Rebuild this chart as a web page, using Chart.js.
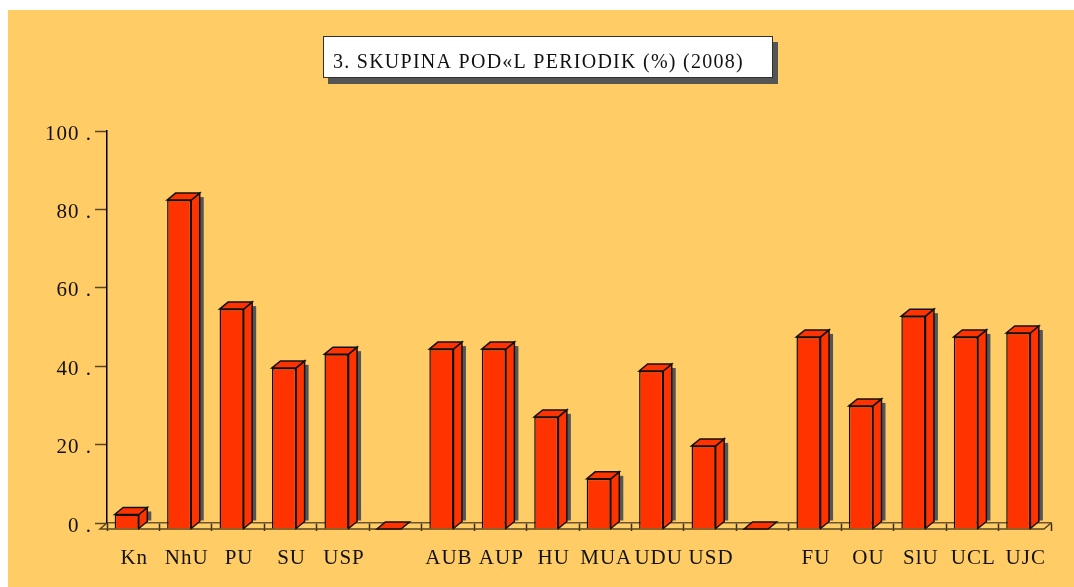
<!DOCTYPE html>
<html>
<head>
<meta charset="utf-8">
<style>
  html, body { margin: 0; padding: 0; background: #fff; }
  canvas { display: block; }
</style>
<script src="https://cdn.jsdelivr.net/npm/chart.js@4"></script>
</head>
<body>
<canvas id="myChart" width="1074" height="587"></canvas>
<script>
const TITLE = "3. SKUPINA POD«L PERIODIK (%) (2008)";
const categories = ["Kn", "NhU", "PU", "SU", "USP", "", "AUB", "AUP", "HU", "MUA", "UDU", "USD", "", "FU", "OU", "SlU", "UCL", "UJC"];
const shares = [3.7, 83.9, 56.1, 41.1, 44.6, 0, 45.9, 45.9, 28.6, 12.8, 40.3, 21.2, 0, 49, 31.4, 54.3, 49, 50];
const yTicks = [0, 20, 40, 60, 80, 100];

const FONT = "'Liberation Serif', 'Times New Roman', serif";
const RED = "#ff3300";
// the front of the bars sits this far from the back wall
const DX = 6.5;
const DY = 6;
// size of the side and top faces
const FACE_DX = 8.5;
const FACE_DY = 7;
// slant of the floor ends
const FLOOR_DX = 7;

const pagePlugin = {
  id: "page",
  beforeDraw(chart) {
    const ctx = chart.ctx;
    ctx.save();
    ctx.fillStyle = "#ffcc66";
    ctx.fillRect(8, 10, 1066, 577);
    // title box with its shadow
    ctx.fillStyle = "#555555";
    ctx.fillRect(328, 42, 450, 42);
    ctx.fillStyle = "#ffffff";
    ctx.fillRect(323, 36, 450, 42);
    ctx.strokeStyle = "#33302a";
    ctx.lineWidth = 1;
    ctx.strokeRect(323.5, 36.5, 449, 41);
    ctx.fillStyle = "#111111";
    ctx.font = "20px " + FONT;
    ctx.letterSpacing = "1.26px";
    ctx.textBaseline = "alphabetic";
    ctx.fillText(TITLE, 333, 68);
    ctx.restore();
    ctx.letterSpacing = "1px";
  }
};

const depthPlugin = {
  id: "depth",
  beforeDatasetsDraw(chart) {
    const ctx = chart.ctx;
    const area = chart.chartArea;
    ctx.save();
    // floor: front edge and the two short slanted ends
    ctx.strokeStyle = "#5a4520";
    ctx.lineWidth = 1.5;
    ctx.beginPath();
    ctx.moveTo(area.left, area.bottom);
    ctx.lineTo(area.left - FLOOR_DX, area.bottom + DY);
    ctx.lineTo(area.right - FLOOR_DX, area.bottom + DY);
    ctx.lineTo(area.right, area.bottom);
    ctx.stroke();

    const bars = chart.getDatasetMeta(0).data;
    bars.forEach((bar) => {
      const p = bar.getProps(["x", "y", "base", "width"], true);
      const left = p.x - p.width / 2 - DX;
      const right = p.x + p.width / 2 - DX;
      const top = p.y + DY;
      const base = p.base + DY;
      ctx.lineWidth = 1.5;
      ctx.strokeStyle = "#111111";
      ctx.fillStyle = RED;
      if (base - top > 1) {
        // shadow beside the bar
        ctx.fillStyle = "#555555";
        ctx.fillRect(right + FACE_DX, top - 3, 4, base - top - 5);
        ctx.fillStyle = RED;
        // side face
        ctx.beginPath();
        ctx.moveTo(right, top);
        ctx.lineTo(right + FACE_DX, top - FACE_DY);
        ctx.lineTo(right + FACE_DX, base - FACE_DY);
        ctx.lineTo(right, base);
        ctx.closePath();
        ctx.fill();
        ctx.stroke();
      }
      // top face
      ctx.beginPath();
      ctx.moveTo(left, top);
      ctx.lineTo(left + FACE_DX, top - FACE_DY);
      ctx.lineTo(right + FACE_DX, top - FACE_DY);
      ctx.lineTo(right, top);
      ctx.closePath();
      ctx.fill();
      ctx.stroke();
    });
    ctx.restore();
    // the library draws the front faces shifted onto the front plane
    ctx.save();
    ctx.translate(-DX, DY);
  },
  afterDatasetsDraw(chart) {
    chart.ctx.restore();
  }
};

new Chart(document.getElementById("myChart").getContext("2d"), {
  type: "bar",
  plugins: [pagePlugin, depthPlugin],
  data: {
    labels: categories,
    datasets: [{
      data: shares,
      backgroundColor: RED,
      borderColor: "#111111",
      borderWidth: 1.5,
      barPercentage: 0.46,
      categoryPercentage: 1
    }]
  },
  options: {
    responsive: false,
    animation: false,
    layout: {
      autoPadding: false,
      padding: { left: 0, right: 23, top: 131, bottom: 0 }
    },
    plugins: {
      legend: { display: false },
      tooltip: { enabled: false }
    },
    scales: {
      x: {
        offset: true,
        afterFit(scale) { scale.height = 64; },
        grid: {
          offset: true,
          drawOnChartArea: false,
          tickLength: 8,
          tickWidth: 1.5,
          tickColor: "#3a2c10"
        },
        border: { color: "#6b5530", width: 1.5 },
        ticks: {
          autoSkip: false,
          maxRotation: 0,
          padding: 15,
          labelOffset: 1,
          color: "#111111",
          font: { family: FONT, size: 21 }
        }
      },
      y: {
        min: 0,
        max: 100,
        afterFit(scale) { scale.width = 107; },
        afterBuildTicks(scale) { scale.ticks = yTicks.map((v) => ({ value: v })); },
        grid: {
          drawOnChartArea: false,
          tickLength: 12,
          tickWidth: 1.5,
          tickColor: "#5a4520"
        },
        border: { color: "#000000", width: 1.5 },
        ticks: {
          padding: 3,
          labelOffset: 3,
          color: "#111111",
          font: { family: FONT, size: 21 },
          callback: (v) => v + " ."
        }
      }
    }
  }
});
</script>
</body>
</html>
